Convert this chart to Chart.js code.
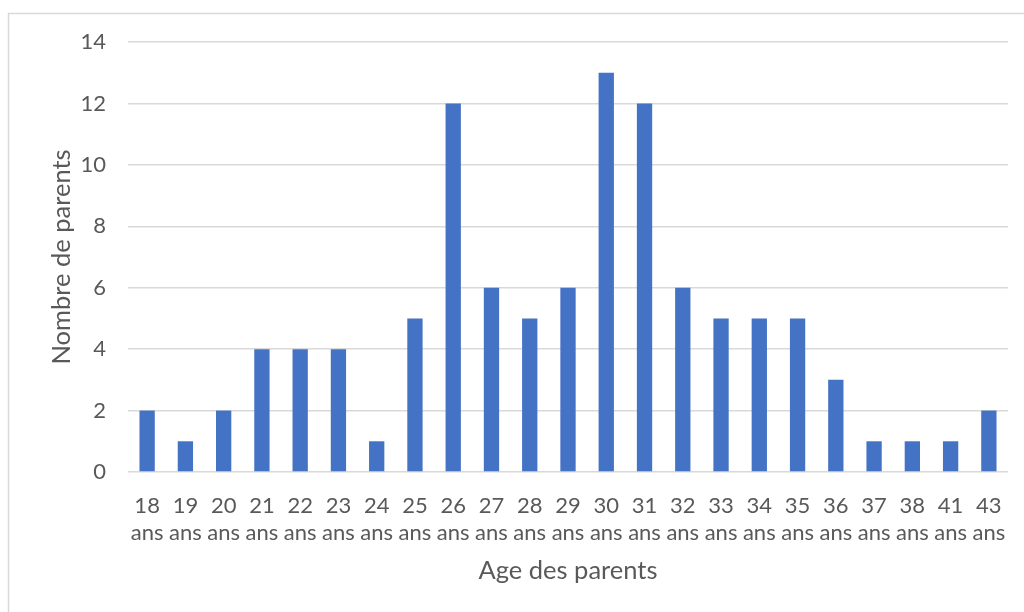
<!DOCTYPE html>
<html><head><meta charset="utf-8">
<script src="https://cdn.jsdelivr.net/npm/chart.js@4/dist/chart.umd.min.js"></script>
<style>html,body{margin:0;padding:0;background:#fff;}#wrap{position:relative;width:1024px;height:612px;}</style>
</head><body><div id="wrap"><canvas id="c" width="1024" height="612"></canvas></div>
<script>
const ages = ['18','19','20','21','22','23','24','25','26','27','28','29','30','31','32','33','34','35','36','37','38','41','43'];
const counts = [2,1,2,4,4,4,1,5,12,6,5,6,13,12,6,5,5,5,3,1,1,1,2];
const yTicks = [0,2,4,6,8,10,12,14];
const labels = ages.map(a => [a, 'ans']);
const FONT = 'Lato';
const TXT = '#595959';

const frame = {
  id: 'frame',
  beforeDraw(chart) {
    const ctx = chart.ctx;
    ctx.save();
    ctx.strokeStyle = '#D9D9D9';
    ctx.lineWidth = 1.5;
    ctx.beginPath();
    ctx.moveTo(8.5, 640);
    ctx.lineTo(8.5, 13.5);
    ctx.lineTo(1100, 13.5);
    ctx.stroke();
    ctx.restore();
  }
};

new Chart(document.getElementById('c'), {
  type: 'bar',
  data: { labels, datasets: [{ data: counts, backgroundColor: '#4472C4', categoryPercentage: 1, barPercentage: 0.4 }] },
  options: {
    responsive: false, animation: false,
    layout: { padding: { left: 46, right: 16, top: 42, bottom: 20 } },
    plugins: { legend: { display: false }, tooltip: { enabled: false } },
    scales: {
      x: {
        grid: { display: false, drawTicks: false },
        border: { display: false },
        ticks: { color: TXT, font: { family: FONT, size: 22, lineHeight: 1.2 }, autoSkip: false, maxRotation: 0, minRotation: 0, padding: 21 },
        title: { display: true, text: 'Age des parents', color: TXT, font: { family: FONT, size: 25.5 }, padding: { top: 0, bottom: 6 } },
        afterFit(s) { s.height = 612 - 472 - 20; s.paddingLeft = 0; s.paddingRight = 0; }
      },
      y: {
        min: 0, max: 14,
        afterBuildTicks(s) { s.ticks = yTicks.map(v => ({ value: v })); },
        grid: { color: '#D9D9D9', lineWidth: 1.5, drawTicks: false },
        border: { display: false },
        ticks: { color: TXT, font: { family: FONT, size: 22 }, padding: 22 },
        title: { display: true, text: 'Nombre de parents', color: TXT, font: { family: FONT, size: 25.5 }, padding: { top: 0, bottom: 0 } },
        afterFit(s) { s.width = 128 - 46; s.paddingTop = 0; s.paddingBottom = 0; }
      }
    }
  },
  plugins: [frame]
});
</script></body></html>
